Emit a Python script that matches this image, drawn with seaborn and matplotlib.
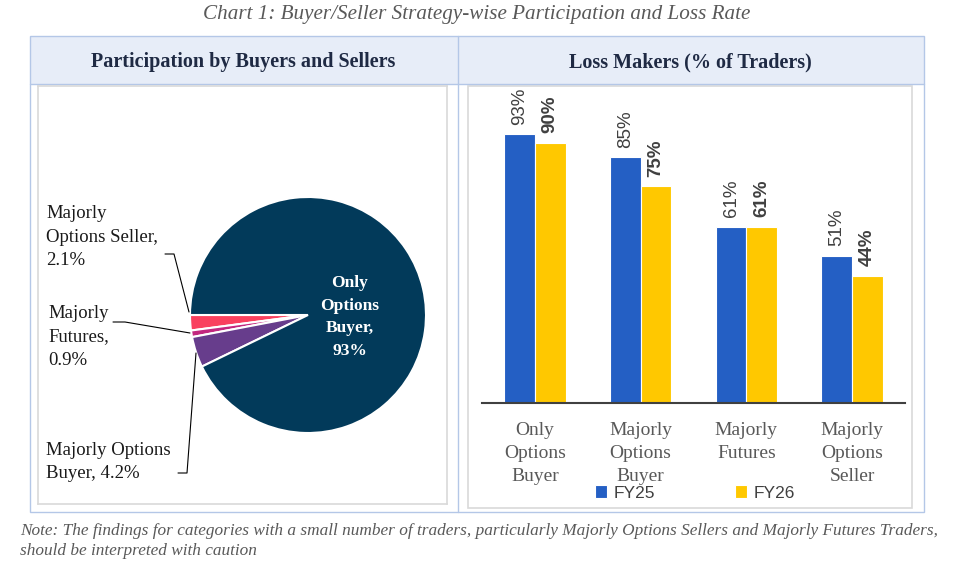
import numpy as np
import pandas as pd
import seaborn as sns
import matplotlib.pyplot as plt
from matplotlib.patches import Rectangle

# pie data
pie_labels = ["Majorly\nOptions Seller,\n2.1%", "Majorly\nFutures,\n0.9%",
              "Majorly Options\nBuyer, 4.2%", "Only\nOptions\nBuyer,\n93%"]
pie_shares = [2.1, 0.9, 4.2, 92.8]
pie_colors = ["#F9405E", "#C2277F", "#673D8C", "#023A5A"]

# bar data
categories = ["Only\nOptions\nBuyer", "Majorly\nOptions\nBuyer", "Majorly\nFutures", "Majorly\nOptions\nSeller"]
fy25 = [93, 85, 61, 51]
fy26 = [90, 75, 61, 44]
years = ["FY25", "FY26"]
bar_colors = ["#245FC4", "#FFC800"]

sns.set_theme(style="white")
plt.rcParams['font.family'] = ['Liberation Serif', 'DejaVu Serif']

W, H = 970, 564
fig = plt.figure(figsize=(W / 100, H / 100), dpi=100)

def fx(x):
    return x / W

def fy(y):
    return 1 - y / H

# background frame drawn in pixel space
bg = fig.add_axes([0, 0, 1, 1], zorder=0)
bg.set_xlim(0, W)
bg.set_ylim(H, 0)
bg.axis('off')
frame_col = "#B4C7E7"
bg.add_patch(Rectangle((30, 36), 894, 48, facecolor="#E7EDF8", edgecolor="none"))
bg.add_patch(Rectangle((30, 36), 894, 476, facecolor="none", edgecolor=frame_col, lw=1))
bg.plot([30, 924], [84, 84], color=frame_col, lw=1)
bg.plot([458, 458], [36, 512], color=frame_col, lw=1)
bg.add_patch(Rectangle((468, 86), 444, 422, facecolor="white", edgecolor="#D9D9D9", lw=1.2))

bg.text(477, 14, "Chart 1: Buyer/Seller Strategy-wise Participation and Loss Rate",
        ha='center', va='center', style='italic', fontsize=15.2, color="#595959")
bg.text(243, 62, "Participation by Buyers and Sellers", ha='center', va='center',
        fontweight='bold', fontsize=14.5, color="#1F2A44")
bg.text(690, 62, "Loss Makers (% of Traders)", ha='center', va='center',
        fontweight='bold', fontsize=14.5, color="#1F2A44")
bg.text(20, 541, "Note: The findings for categories with a small number of traders, particularly "
        "Majorly Options Sellers and Majorly Futures Traders,\nshould be interpreted with caution",
        ha='left', va='center', style='italic', fontsize=12.4, color="#595959", linespacing=1.3)

# pie panel, data units = pixels
ax_pie = fig.add_axes([fx(38), fy(504), fx(409), 418 / H], zorder=1)
cx, cy, r = 308, H - 315, 118
ax_pie.pie(pie_shares, colors=pie_colors, startangle=180, counterclock=True,
           center=(cx, cy), radius=r, frame=True,
           wedgeprops=dict(edgecolor='white', linewidth=1.5))
ax_pie.set_xlim(38, 447)
ax_pie.set_ylim(H - 504, H - 86)
ax_pie.set_aspect('equal')
ax_pie.set_xticks([])
ax_pie.set_yticks([])
ax_pie.set_facecolor('white')
for s in ax_pie.spines.values():
    s.set_color("#D9D9D9")
    s.set_linewidth(1.2)

ax_pie.text(350, H - 317, pie_labels[3], ha='center', va='center', color='white',
            fontweight='bold', fontsize=12.5, linespacing=1.55)
ax_pie.text(46, H - 237, pie_labels[0], ha='left', va='center', fontsize=13.5,
            color="#1A1A1A", linespacing=1.5)
ax_pie.text(48, H - 337, pie_labels[1], ha='left', va='center', fontsize=13.5,
            color="#1A1A1A", linespacing=1.5)
ax_pie.text(46, H - 462, pie_labels[2], ha='left', va='center', fontsize=13.5,
            color="#1A1A1A", linespacing=1.5)
ax_pie.plot([165, 174, 189], [H - 254, H - 254, H - 312], color='black', lw=0.8)
ax_pie.plot([113, 125, 190], [H - 322, H - 322, H - 333], color='black', lw=0.8)
ax_pie.plot([178, 187, 196], [H - 473, H - 473, H - 353], color='black', lw=0.8)

# bar panel
df = pd.DataFrame({
    "category": categories * 2,
    "year": [years[0]] * len(fy25) + [years[1]] * len(fy26),
    "value": fy25 + fy26,
})
ax = fig.add_axes([fx(482), fy(403), fx(423), 315 / H], zorder=2)
sns.barplot(data=df, x="category", y="value", hue="year", palette=bar_colors,
            saturation=1, width=0.58, edgecolor='white', linewidth=0.8, ax=ax)
ax.set_facecolor('none')
ax.set_ylim(0, 109)
ax.set_xlim(-0.5, 3.5)
ax.set_yticks([])
ax.set_xlabel("")
ax.set_ylabel("")
for side in ["top", "left", "right"]:
    ax.spines[side].set_visible(False)
ax.spines["bottom"].set_color("#404040")
ax.spines["bottom"].set_linewidth(1.5)
ax.tick_params(axis='x', length=0, pad=14, labelsize=14, labelcolor="#595959")
for lab in ax.get_xticklabels():
    lab.set_linespacing(1.45)
    lab.set_verticalalignment('top')

for i, cont in enumerate(ax.containers):
    ax.bar_label(cont, labels=[f"{int(v)}%" for v in cont.datavalues], rotation=90, padding=7,
                 fontsize=13.5, color="#404040", family=['Liberation Sans', 'DejaVu Sans'],
                 fontweight='bold' if i == 1 else 'normal')

handles, labels = ax.get_legend_handles_labels()
ax.legend_.remove()
fig.legend(handles, labels, loc='center', bbox_to_anchor=(fx(695), fy(493)), ncol=2,
           frameon=False, handlelength=0.7, handleheight=0.7, handletextpad=0.4,
           columnspacing=4.6, prop={'family': ['Liberation Sans', 'DejaVu Sans'], 'size': 12.5},
           labelcolor="#404040")

fig.savefig("out.png", dpi=100)
